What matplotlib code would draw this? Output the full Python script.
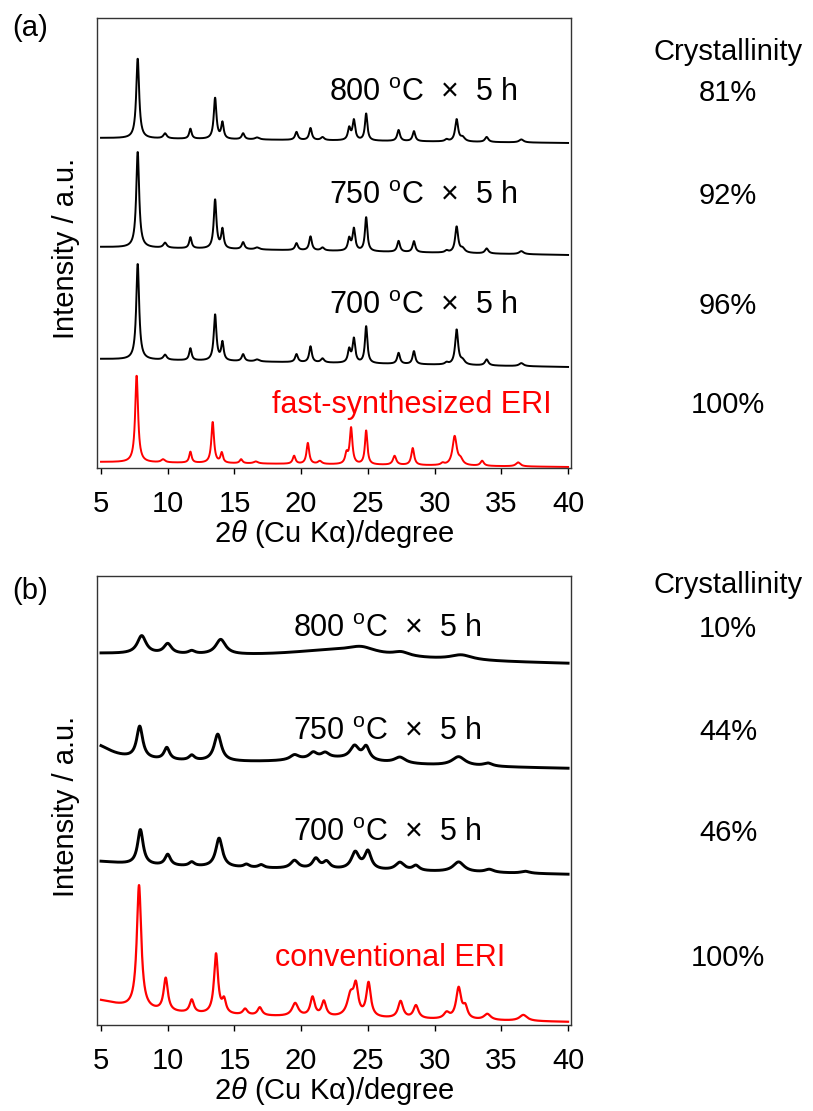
import numpy as np
import matplotlib

matplotlib.use("Agg")

import matplotlib.pyplot as plt
from matplotlib import transforms

plt.rcParams["font.family"] = ["Liberation Sans", "DejaVu Sans"]
plt.rcParams["mathtext.fontset"] = "custom"
plt.rcParams["mathtext.rm"] = "Liberation Sans"
plt.rcParams["mathtext.it"] = "Liberation Sans:italic"

# ---- data (intensity in arbitrary units, stacked) ----
# each pattern: baseline at 5 deg and 40 deg, peak positions, heights, FWHM

# panel (a): fast-synthesized ERI after calcination
a800_base = [330, 325]
a800_pos = [7.75, 9.8, 11.7, 13.55, 14.1, 15.65, 16.7, 19.65, 20.7, 21.6,
            23.6, 23.95, 24.87, 27.3, 28.45, 30.9, 31.65, 32.1, 33.9, 36.5]
a800_height = [80, 5, 10, 41, 16, 6, 2, 8, 12, 3, 12, 20, 27, 11, 10, 2, 22, 4, 5, 3]

a750_base = [221, 213]
a750_pos = a800_pos
a750_height = [96, 5, 11, 49, 19, 7, 2, 7, 14, 3, 12, 22, 34, 11, 11, 2, 26, 4, 5, 3]

a700_base = [109, 101]
a700_pos = a800_pos
a700_height = [96, 5, 12, 46, 18, 7, 2, 8, 16, 4, 13, 24, 37, 11, 13, 2, 35, 4, 6, 3]

a_sharp_fwhm = [0.26, 0.3, 0.22, 0.24, 0.22, 0.25, 0.4, 0.25, 0.24, 0.3,
                0.24, 0.24, 0.22, 0.25, 0.24, 0.3, 0.27, 0.4, 0.3, 0.4]

afast_base = [6, 1]
afast_pos = [7.67, 9.65, 11.7, 13.37, 14.05, 15.5, 16.6, 19.47, 20.5, 21.4,
             23.4, 23.74, 24.87, 27.0, 28.36, 30.6, 31.5, 31.95, 33.56, 36.26]
afast_height = [87, 3, 11, 41, 10, 4, 2, 8, 21, 3, 10, 36, 34, 9, 17, 2, 29, 5, 5, 4]
afast_fwhm = [0.26, 0.35, 0.22, 0.24, 0.22, 0.25, 0.4, 0.25, 0.24, 0.35,
              0.25, 0.24, 0.22, 0.3, 0.26, 0.3, 0.38, 0.4, 0.3, 0.4]

a_labels = ["800 $^{\\mathrm{o}}$C  \u00d7  5 h", "750 $^{\\mathrm{o}}$C  \u00d7  5 h",
            "700 $^{\\mathrm{o}}$C  \u00d7  5 h", "fast-synthesized ERI"]
a_crystallinity = ["81%", "92%", "96%", "100%"]

# panel (b): conventional ERI after calcination
b800_base = [372, 362]
b800_pos = [8.05, 10.0, 11.8, 13.97, 22.5, 24.5, 27.5, 32.0]
b800_height = [18, 10, 3, 15, 8, 6, 4, 5]
b800_fwhm = [0.8, 0.7, 0.6, 0.9, 9.0, 2.5, 1.5, 2.0]

b750_base = [265, 257]
b750_pos = [4.5, 7.9, 9.93, 11.8, 13.75, 22.5, 19.5, 20.9, 21.8, 24.0, 24.87, 27.4, 31.8, 34.0]
b750_height = [16, 32, 12, 5, 27, 6, 5, 6, 5, 13, 13, 6, 9, 3]
b750_fwhm = [3.0, 0.55, 0.5, 0.5, 0.65, 7.0, 0.8, 0.7, 0.7, 0.8, 0.6, 1.0, 1.2, 0.8]

b700_base = [160, 151]
b700_pos = [4.5, 7.95, 10.0, 11.8, 13.85, 15.9, 17.0, 19.5, 21.1, 21.9,
            24.05, 25.0, 27.4, 28.6, 31.8, 34.1, 36.8]
b700_height = [4, 35, 11, 4, 29, 3, 3, 8, 10, 7, 17, 18, 8, 5, 10, 3, 2]
b700_fwhm = [5.0, 0.5, 0.5, 0.5, 0.6, 0.5, 0.5, 0.7, 0.6, 0.6, 0.7, 0.6, 0.8, 0.6, 1.0, 0.8, 0.8]

bconv_base = [11, 3]
bconv_pos = [4.0, 7.85, 9.85, 11.8, 13.62, 14.22, 15.8, 16.9, 19.55, 20.85, 21.7,
             23.7, 24.1, 25.05, 27.45, 28.6, 30.9, 31.8, 32.3, 33.95, 36.65]
bconv_height = [15, 124, 33, 13, 60, 13, 6, 8, 13, 19, 15, 21, 28, 34, 17, 13, 6, 31, 11, 6, 6]
bconv_fwhm = [6.0, 0.4, 0.38, 0.38, 0.36, 0.35, 0.4, 0.4, 0.55, 0.4, 0.4,
              0.6, 0.4, 0.4, 0.45, 0.45, 0.5, 0.45, 0.4, 0.6, 0.7]

b_labels = ["800 $^{\\mathrm{o}}$C  \u00d7  5 h", "750 $^{\\mathrm{o}}$C  \u00d7  5 h",
            "700 $^{\\mathrm{o}}$C  \u00d7  5 h", "conventional ERI"]
b_crystallinity = ["10%", "44%", "46%", "100%"]

two_theta = np.arange(5.0, 40.001, 0.02)


def pattern(base, positions, heights, fwhms):
    y = np.interp(two_theta, [5.0, 40.0], base)
    for pos, height, fwhm in zip(positions, heights, fwhms):
        y = y + height / (1 + (2 * (two_theta - pos) / fwhm) ** 2)
    return y


fig = plt.figure(figsize=(8.13, 11.11), dpi=100)
W, H = 813, 1111


def make_axes(left, top, right, bottom):
    return fig.add_axes([left / W, 1 - bottom / H, (right - left) / W, (bottom - top) / H])


ax_a = make_axes(97, 18, 571, 468)
ax_b = make_axes(97, 576, 571, 1025)

a_curves = [
    (pattern(a800_base, a800_pos, a800_height, a_sharp_fwhm), "black"),
    (pattern(a750_base, a750_pos, a750_height, a_sharp_fwhm), "black"),
    (pattern(a700_base, a700_pos, a700_height, a_sharp_fwhm), "black"),
    (pattern(afast_base, afast_pos, afast_height, afast_fwhm), "#ff0000"),
]
b_curves = [
    (pattern(b800_base, b800_pos, b800_height, b800_fwhm), "black"),
    (pattern(b750_base, b750_pos, b750_height, b750_fwhm), "black"),
    (pattern(b700_base, b700_pos, b700_height, b700_fwhm), "black"),
    (pattern(bconv_base, bconv_pos, bconv_height, bconv_fwhm), "#ff0000"),
]

for y, color in a_curves:
    ax_a.plot(two_theta, y, color=color, lw=1.4)
for y, color in b_curves:
    ax_b.plot(two_theta, y, color=color, lw=2.1 if color == "black" else 1.6)

# label positions: right edge (deg), baseline in intensity units
a_label_x = [36.18, 36.18, 36.18, 38.8]
a_label_y = [367, 264, 154, 55]
a_head_y = 408
b_label_x = [33.55, 33.55, 33.55, 35.28]
b_label_y = [389, 286, 184, 59]
b_head_y = 433

for ax, curves, labels, label_x, label_y, cryst, head_y, tag, tag_y in [
    (ax_a, a_curves, a_labels, a_label_x, a_label_y, a_crystallinity, a_head_y, "(a)", 28),
    (ax_b, b_curves, b_labels, b_label_x, b_label_y, b_crystallinity, b_head_y, "(b)", 591),
]:
    ax.set_xlim(4.7, 40.22)
    ax.set_ylim(0, 450)
    ax.set_yticks([])
    ax.set_xticks(range(5, 41, 5))
    ax.tick_params(axis="x", direction="out", length=4, width=1, labelsize=21, pad=12)
    for spine in ax.spines.values():
        spine.set_linewidth(1.0)
        spine.set_color("#333333")
    ax.set_xlabel(r"2$\theta$ (Cu K" + "\u03b1)/degree", fontsize=21, labelpad=0)

    for text, x, y, (curve, color) in zip(labels, label_x, label_y, curves):
        ax.text(x, y, text, ha="right", va="baseline", fontsize=22, color=color)

    side = transforms.blended_transform_factory(fig.transFigure, ax.transData)
    ax.text(728 / W, head_y, "Crystallinity", transform=side, ha="center",
            va="baseline", fontsize=21)
    for value, y in zip(cryst, label_y):
        ax.text(728 / W, y, value, transform=side, ha="center", va="baseline", fontsize=21)

    fig.text(30 / W, 1 - tag_y / H, tag, ha="center", va="center", fontsize=21)

fig.text(66 / W, 1 - 248 / H, "Intensity / a.u.", rotation=90, ha="center",
         va="center", fontsize=21)
fig.text(66 / W, 1 - 806 / H, "Intensity / a.u.", rotation=90, ha="center",
         va="center", fontsize=21)

fig.savefig("out.png", dpi=100)
plt.close(fig)
